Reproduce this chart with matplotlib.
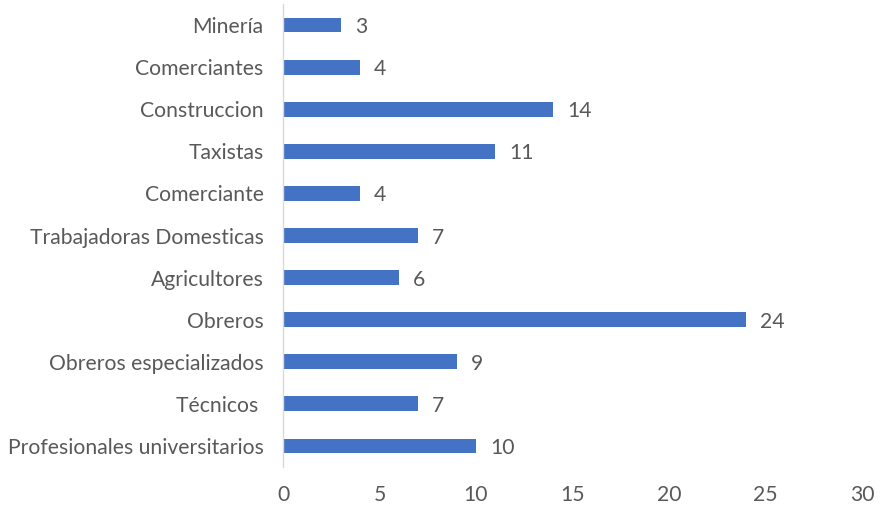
import matplotlib
matplotlib.use("Agg")
import matplotlib.pyplot as plt

categories = ["Minería", "Comerciantes", "Construccion", "Taxistas", "Comerciante",
              "Trabajadoras Domesticas", "Agricultores", "Obreros",
              "Obreros especializados", "Técnicos ", "Profesionales universitarios"]
values = [3, 4, 14, 11, 4, 7, 6, 24, 9, 7, 10]
xticks = [0, 5, 10, 15, 20, 25, 30]

bar_color = "#4472C4"
text_color = "#595959"

plt.rcParams["font.family"] = ["Lato", "DejaVu Sans"]

fig = plt.figure(figsize=(8.8, 5.09), dpi=100)
ax = fig.add_axes([283 / 880, 1 - 467 / 509, (862 - 283) / 880, (467 - 4) / 509])

pos = list(range(len(categories)))
ax.barh(pos, values, height=0.35, color=bar_color)
ax.set_ylim(len(categories) - 0.5, -0.5)
ax.set_xlim(0, 30)

ax.set_yticks(pos)
ax.set_yticklabels(categories, va="center_baseline")
ax.set_xticks(xticks)
ax.set_xticklabels([str(t) for t in xticks])
ax.tick_params(axis="both", length=0, colors=text_color, labelsize=15.2)
ax.tick_params(axis="y", pad=14)
ax.tick_params(axis="x", pad=13)

for spine in ["top", "right", "bottom"]:
    ax.spines[spine].set_visible(False)
ax.spines["left"].set_color("#D9D9D9")
ax.spines["left"].set_linewidth(1.0)

for y, v in zip(pos, values):
    ax.annotate(str(v), (v, y), xytext=(10, 0), textcoords="offset points",
                va="center_baseline", ha="left", color=text_color, fontsize=15.2)

fig.savefig("out.png", dpi=100)
